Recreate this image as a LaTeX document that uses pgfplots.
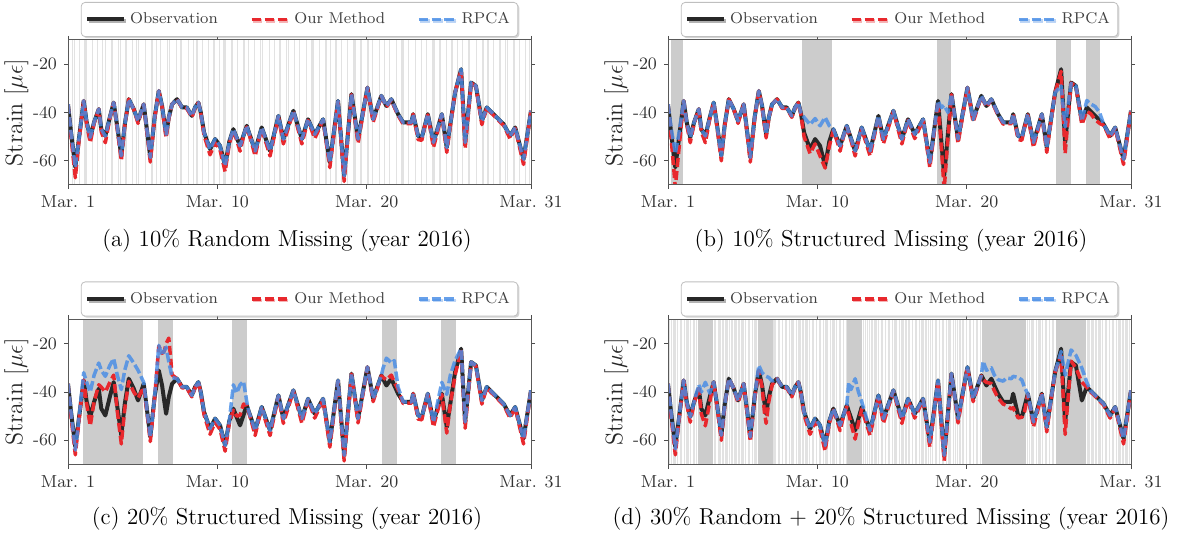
\documentclass[border=0pt]{standalone}
\usepackage{pgfplots}
\pgfplotsset{compat=1.18}
\usepackage{pgfplotstable}
\usetikzlibrary{shadows}

\definecolor{obscol}{RGB}{40,40,40}
\definecolor{ourcol}{RGB}{232,40,45}
\definecolor{rpcacol}{RGB}{70,140,230}
\definecolor{gapcol}{RGB}{204,204,204}
\definecolor{rndcol}{RGB}{226,226,226}

\pgfplotstableread{
x      obs    ma     mb     mc     md     rb     rc     rd
0.00  -36.6  -36.6  -36.6  -36.6  -36.6  -36.6  -36.6  -36.6
0.20  -48.0  -50.0  -50.0  -50.0  -50.0  -46.0  -48.0  -48.0
0.49  -62.7  -67.0  -71.0  -66.0  -66.0  -57.0  -64.0  -63.5
0.75  -50.0  -51.0  -54.0  -51.0  -51.0  -48.0  -50.0  -50.0
1.05  -35.2  -35.2  -35.2  -35.0  -35.2  -35.2  -32.0  -35.2
1.25  -44.0  -45.0  -45.0  -45.0  -45.0  -44.0  -36.0  -44.0
1.49  -50.3  -52.5  -52.5  -54.0  -52.5  -50.3  -40.0  -50.3
1.75  -44.0  -44.5  -44.5  -44.0  -44.5  -44.0  -33.0  -44.0
2.06  -38.6  -38.6  -38.6  -37.0  -38.6  -38.6  -28.0  -37.0
2.23  -46.9  -48.0  -48.0  -38.0  -49.0  -46.9  -31.0  -40.0
2.50  -49.7  -52.5  -52.5  -40.0  -54.0  -49.7  -33.5  -36.0
2.80  -42.0  -42.5  -42.5  -36.0  -44.0  -42.0  -29.0  -40.5
3.06  -35.9  -35.9  -35.9  -33.0  -35.9  -35.9  -26.2  -35.9
3.30  -46.0  -47.0  -47.0  -48.0  -47.0  -46.0  -33.0  -46.0
3.57  -57.9  -60.0  -60.0  -61.5  -60.0  -57.9  -39.0  -57.9
3.80  -45.0  -45.5  -45.5  -47.0  -45.5  -45.0  -31.0  -45.0
4.07  -34.5  -34.5  -34.5  -35.6  -34.5  -34.5  -25.0  -34.5
4.40  -38.6  -38.6  -38.6  -40.0  -38.6  -38.6  -28.0  -38.6
4.69  -43.5  -44.5  -44.5  -42.5  -44.5  -43.5  -31.0  -43.5
5.07  -36.6  -36.6  -36.6  -38.0  -36.6  -36.6  -36.0  -36.6
5.30  -48.0  -49.0  -49.0  -49.0  -49.0  -48.0  -48.0  -48.0
5.51  -58.6  -60.5  -60.5  -60.5  -60.5  -58.6  -58.6  -58.6
5.80  -42.0  -42.5  -42.5  -42.5  -42.5  -42.0  -42.0  -42.0
6.08  -31.1  -31.1  -31.1  -21.0  -31.1  -31.1  -20.7  -29.0
6.30  -37.3  -37.8  -37.8  -24.0  -38.0  -37.3  -24.8  -32.0
6.45  -44.0  -45.0  -45.0  -23.0  -48.0  -44.0  -23.0  -33.0
6.57  -49.0  -50.5  -50.5  -20.0  -53.0  -49.0  -21.4  -33.5
6.75  -42.0  -42.5  -42.5  -17.7  -44.0  -42.0  -27.6  -34.0
6.97  -36.6  -36.6  -36.6  -32.9  -37.0  -36.6  -34.0  -35.5
7.30  -34.5  -34.5  -34.5  -34.5  -34.5  -34.5  -34.5  -34.5
7.64  -37.9  -38.3  -38.3  -38.3  -38.3  -37.9  -37.9  -37.9
7.95  -37.9  -38.3  -38.3  -38.3  -38.3  -37.9  -37.9  -37.9
8.29  -41.4  -42.0  -42.0  -42.0  -42.0  -41.4  -41.4  -41.4
8.51  -37.9  -38.3  -38.3  -38.3  -38.3  -37.9  -37.9  -37.9
8.73  -35.9  -35.9  -35.9  -35.9  -35.9  -35.9  -35.9  -35.9
8.89  -40.0  -40.5  -40.5  -40.5  -40.5  -40.0  -40.0  -40.0
9.11  -48.3  -49.5  -50.0  -49.5  -49.5  -42.0  -48.3  -48.3
9.51  -55.2  -57.5  -57.0  -57.5  -57.5  -45.0  -55.2  -55.2
9.85  -51.0  -52.5  -53.0  -52.5  -52.5  -42.5  -51.0  -51.0
10.18 -53.8  -55.5  -58.0  -55.5  -55.5  -45.5  -53.8  -53.8
10.52 -62.1  -64.5  -63.0  -64.5  -64.5  -42.0  -62.1  -62.1
10.80 -52.0  -53.0  -54.0  -53.0  -53.0  -45.5  -52.0  -52.0
11.07 -46.9  -47.5  -47.5  -47.5  -47.5  -46.9  -37.0  -46.9
11.30 -50.5  -51.5  -51.5  -50.0  -51.5  -50.5  -40.4  -50.5
11.52 -53.8  -56.0  -56.0  -49.6  -56.0  -53.8  -37.0  -53.8
11.75 -49.5  -50.0  -50.0  -45.0  -50.0  -49.5  -35.6  -49.5
11.97 -45.5  -46.0  -46.0  -45.5  -46.0  -45.5  -44.0  -45.5
12.10 -48.0  -48.5  -48.5  -48.5  -49.0  -48.0  -48.0  -36.0
12.25 -50.7  -51.5  -51.5  -51.5  -53.0  -50.7  -50.7  -39.0
12.53 -55.9  -58.0  -58.0  -58.0  -59.5  -55.9  -55.9  -34.5
12.75 -51.0  -52.0  -52.0  -52.0  -53.0  -51.0  -51.0  -40.0
12.97 -46.2  -46.8  -46.8  -46.8  -47.0  -46.2  -46.2  -44.0
13.53 -55.9  -58.0  -58.0  -58.0  -58.0  -55.9  -55.9  -55.9
14.09 -41.4  -41.8  -41.8  -41.8  -41.8  -41.4  -41.4  -41.4
14.42 -51.0  -53.0  -53.0  -53.0  -53.0  -51.0  -51.0  -51.0
15.09 -39.3  -39.6  -39.6  -39.6  -39.6  -39.3  -39.3  -39.3
15.66 -51.0  -53.0  -53.0  -53.0  -53.0  -51.0  -51.0  -51.0
16.07 -42.8  -43.2  -43.2  -43.2  -43.2  -42.8  -42.8  -42.8
16.52 -49.0  -50.8  -50.8  -50.8  -50.8  -49.0  -49.0  -49.0
17.08 -42.8  -43.2  -43.2  -43.2  -43.2  -42.8  -42.8  -42.8
17.53 -60.7  -62.8  -62.8  -62.8  -62.8  -60.7  -60.7  -60.7
18.08 -35.2  -35.5  -35.5  -35.5  -35.5  -35.2  -35.2  -35.2
18.30 -51.8  -53.0  -54.0  -53.0  -53.0  -38.0  -51.8  -51.8
18.49 -66.2  -68.5  -72.0  -68.5  -68.5  -37.0  -66.2  -66.2
18.75 -48.3  -49.0  -50.0  -49.0  -49.0  -40.0  -48.3  -48.3
18.98 -32.4  -32.6  -32.6  -32.6  -32.6  -32.4  -32.4  -32.4
19.42 -51.0  -52.8  -52.8  -52.8  -52.8  -51.0  -51.0  -51.0
20.05 -29.7  -29.7  -29.7  -29.7  -29.7  -29.7  -29.7  -29.7
20.43 -42.8  -44.0  -44.0  -44.0  -44.0  -42.8  -42.8  -42.8
20.98 -33.1  -33.3  -33.3  -33.3  -33.3  -33.1  -33.1  -33.1
21.10 -34.6  -34.8  -34.8  -34.0  -35.0  -34.6  -30.0  -27.3
21.32 -37.3  -37.8  -37.8  -35.0  -36.0  -37.3  -26.0  -31.0
21.65 -34.5  -34.8  -34.8  -33.0  -36.5  -34.5  -28.0  -30.0
21.85 -37.3  -37.8  -37.8  -36.0  -39.5  -37.3  -27.0  -33.0
22.10 -40.7  -41.2  -41.2  -39.0  -42.5  -40.7  -38.0  -34.9
22.44 -44.1  -44.8  -44.8  -44.8  -45.0  -44.1  -44.1  -35.5
22.65 -44.1  -44.6  -44.6  -44.6  -45.5  -44.1  -44.1  -34.2
22.99 -44.1  -44.6  -44.6  -44.6  -47.0  -44.1  -44.1  -34.5
23.11 -40.7  -40.7  -40.7  -40.7  -46.5  -40.7  -40.7  -33.5
23.44 -49.7  -51.2  -51.2  -51.2  -50.7  -49.7  -49.7  -34.0
23.69 -50.3  -51.5  -51.5  -51.5  -50.5  -50.3  -50.3  -35.0
23.88 -45.7  -46.0  -46.0  -46.0  -48.0  -45.7  -45.7  -38.3
24.09 -40.7  -41.0  -41.0  -41.0  -41.0  -40.7  -40.7  -40.7
24.47 -52.4  -54.5  -54.5  -54.5  -54.5  -52.4  -52.4  -52.4
25.03 -40.7  -41.0  -41.0  -41.0  -41.0  -40.7  -36.0  -40.7
25.36 -54.5  -56.5  -56.5  -57.0  -56.5  -54.5  -41.0  -54.5
25.60 -44.7  -45.5  -45.5  -45.0  -45.5  -44.7  -33.0  -44.7
25.92 -31.7  -31.7  -31.7  -33.0  -31.7  -31.7  -27.0  -31.7
26.32 -22.1  -22.5  -23.0  -22.5  -25.0  -29.0  -22.1  -23.2
26.59 -52.4  -55.0  -57.0  -55.0  -57.6  -46.0  -52.4  -33.0
26.99 -27.6  -27.8  -27.8  -27.8  -27.2  -28.0  -27.6  -22.6
27.31 -29.0  -29.3  -29.3  -29.3  -30.0  -29.0  -29.0  -24.8
27.71 -43.5  -45.0  -45.0  -45.0  -36.0  -43.5  -43.5  -30.1
28.04 -37.9  -38.2  -39.5  -38.2  -38.0  -35.0  -37.9  -36.0
28.30 -39.5  -40.0  -40.5  -40.0  -40.0  -36.5  -39.5  -39.5
28.60 -41.4  -41.8  -43.0  -41.8  -41.8  -37.5  -41.4  -41.4
28.90 -43.2  -43.7  -44.5  -43.7  -43.7  -40.0  -43.2  -43.2
29.16 -44.8  -45.3  -45.3  -45.3  -45.3  -44.8  -44.8  -44.8
29.60 -49.7  -50.8  -50.8  -50.8  -50.8  -49.7  -49.7  -49.7
29.94 -46.2  -46.5  -46.5  -46.5  -46.5  -46.2  -46.2  -46.2
30.50 -59.3  -61.5  -61.5  -61.5  -61.5  -59.3  -59.3  -59.3
31.00 -39.3  -39.3  -39.3  -39.3  -39.3  -39.3  -39.3  -39.3
}\data

\pgfplotsset{
  strainaxis/.style={
    scale only axis, width=231.5pt, height=72.5pt,
    xmin=0, xmax=31, ymin=-70, ymax=-10,
    xtick={0,10,20,31}, xticklabels={Mar. 1, Mar. 10, Mar. 20, Mar. 31},
    ytick={-60,-40,-20}, yticklabels={-60,-40,-20},
    minor tick num=0,
    axis on top=true,
    tick align=outside, major tick length=2pt,
    tick style={black!70, line width=0.4pt},
    axis line style={black!65, line width=0.5pt},
    tick label style={font=\fontsize{8.7}{10}\selectfont, text=black!80},
    ylabel={Strain [$\mu\epsilon$]},
    ylabel style={font=\fontsize{12}{14}\selectfont, text=black!85},
    ylabel shift=-4.5pt,
    clip marker paths=true,
    legend columns=3,
    legend style={at={(0.5,1)}, anchor=south, yshift=1.5pt,
      draw=black!25, rounded corners=2pt, fill=white,
      drop shadow={shadow xshift=0.8pt, shadow yshift=-0.8pt, opacity=0.35},
      font=\fontsize{7.85}{9}\selectfont, text=black!75,
      inner xsep=2pt, inner ysep=3pt,
      /tikz/every even column/.append style={column sep=14pt}},
    legend image code/.code={\draw[##1] (0pt,0pt) -- (18.5pt,0pt);},
  },
  obsline/.style={obscol, line width=2pt, line join=round},
  ourline/.style={ourcol, line width=1.75pt, dash pattern=on 4.5pt off 2pt, line join=round},
  rpcaline/.style={rpcacol, line width=1.75pt, dash pattern=on 4.8pt off 1.6pt, line join=round, opacity=0.82},
  rnd/.style={forget plot, only marks, mark=|, mark size=36pt,
    mark options={draw=rndcol, line width=0.6pt}},
  gap/.style={forget plot, draw=none, fill=gapcol, mark=none},
}

\begin{document}
\begin{tikzpicture}
\useasboundingbox (0pt,0pt) rectangle (591pt,268pt);

% (a)
\begin{axis}[strainaxis, at={(34pt,175.5pt)}, anchor=south west]
\addplot[rnd] coordinates {(0.28,-40)(0.41,-40)(0.77,-40)(1.12,-40)(1.2,-40)(1.63,-40)(1.95,-40)(2.31,-40)(2.52,-40)(2.94,-40)(3.38,-40)(3.51,-40)(3.89,-40)(4.33,-40)(4.6,-40)(4.71,-40)(5.18,-40)(5.62,-40)(5.9,-40)(6.21,-40)(6.66,-40)(6.8,-40)(7.25,-40)(7.55,-40)(7.6,-40)(8.05,-40)(8.39,-40)(8.62,-40)(8.66,-40)(9.02,-40)(9.41,-40)(9.77,-40)(10.12,-40)(10.44,-40)(10.51,-40)(10.98,-40)(11.35,-40)(11.79,-40)(12.06,-40)(12.48,-40)(12.9,-40)(13.02,-40)(13.47,-40)(13.85,-40)(14.2,-40)(14.61,-40)(14.74,-40)(15.15,-40)(15.5,-40)(15.96,-40)(16.3,-40)(16.41,-40)(16.85,-40)(17.27,-40)(17.6,-40)(17.95,-40)(18.33,-40)(18.69,-40)(19.1,-40)(19.21,-40)(19.62,-40)(20.08,-40)(20.4,-40)(20.86,-40)(21.18,-40)(21.52,-40)(21.97,-40)(22.35,-40)(22.43,-40)(22.8,-40)(23.24,-40)(23.66,-40)(23.99,-40)(24.38,-40)(24.5,-40)(24.91,-40)(25.33,-40)(25.71,-40)(26.07,-40)(26.44,-40)(26.82,-40)(26.9,-40)(27.35,-40)(27.79,-40)(28.12,-40)(28.5,-40)(28.93,-40)(29.31,-40)(29.44,-40)(29.86,-40)(30.22,-40)(30.63,-40)(30.88,-40)};
\addplot[obsline] table[x=x,y=obs]{\data}; \addlegendentry{Observation}
\addplot[ourline] table[x=x,y=ma]{\data}; \addlegendentry{Our Method}
\addplot[rpcaline] table[x=x,y=obs]{\data}; \addlegendentry{RPCA}
\end{axis}

% (b)
\begin{axis}[strainaxis, at={(334pt,175.5pt)}, anchor=south west]
\addplot[gap] coordinates {(0.2,-70)(0.2,-10)(1,-10)(1,-70)};
\addplot[gap] coordinates {(9,-70)(9,-10)(10.95,-10)(10.95,-70)};
\addplot[gap] coordinates {(18,-70)(18,-10)(18.95,-10)(18.95,-70)};
\addplot[gap] coordinates {(26,-70)(26,-10)(26.95,-10)(26.95,-70)};
\addplot[gap] coordinates {(28,-70)(28,-10)(28.95,-10)(28.95,-70)};
\addplot[obsline] table[x=x,y=obs]{\data}; \addlegendentry{Observation}
\addplot[ourline] table[x=x,y=mb]{\data}; \addlegendentry{Our Method}
\addplot[rpcaline] table[x=x,y=rb]{\data}; \addlegendentry{RPCA}
\end{axis}

% (c)
\begin{axis}[strainaxis, at={(34pt,35.75pt)}, anchor=south west]
\addplot[gap] coordinates {(1,-70)(1,-10)(5,-10)(5,-70)};
\addplot[gap] coordinates {(6,-70)(6,-10)(7,-10)(7,-70)};
\addplot[gap] coordinates {(11,-70)(11,-10)(12,-10)(12,-70)};
\addplot[gap] coordinates {(21,-70)(21,-10)(22,-10)(22,-70)};
\addplot[gap] coordinates {(25,-70)(25,-10)(26,-10)(26,-70)};
\addplot[obsline] table[x=x,y=obs]{\data}; \addlegendentry{Observation}
\addplot[ourline] table[x=x,y=mc]{\data}; \addlegendentry{Our Method}
\addplot[rpcaline] table[x=x,y=rc]{\data}; \addlegendentry{RPCA}
\end{axis}

% (d)
\begin{axis}[strainaxis, at={(334pt,35.75pt)}, anchor=south west]
\addplot[rnd] coordinates {(0.12,-40)(0.21,-40)(0.38,-40)(0.47,-40)(0.66,-40)(0.83,-40)(0.9,-40)(1.08,-40)(1.27,-40)(1.35,-40)(1.52,-40)(1.7,-40)(1.79,-40)(1.93,-40)(3.09,-40)(3.2,-40)(3.41,-40)(3.5,-40)(3.68,-40)(3.86,-40)(3.95,-40)(4.14,-40)(4.29,-40)(4.48,-40)(4.57,-40)(4.75,-40)(4.93,-40)(5.02,-40)(5.21,-40)(5.4,-40)(5.47,-40)(5.66,-40)(5.83,-40)(5.92,-40)(7.1,-40)(7.22,-40)(7.4,-40)(7.49,-40)(7.68,-40)(7.85,-40)(7.95,-40)(8.12,-40)(8.3,-40)(8.39,-40)(8.58,-40)(8.77,-40)(8.85,-40)(9.04,-40)(9.2,-40)(9.31,-40)(9.5,-40)(9.68,-40)(9.76,-40)(9.94,-40)(10.13,-40)(10.22,-40)(10.4,-40)(10.58,-40)(10.67,-40)(10.86,-40)(11.03,-40)(11.12,-40)(11.3,-40)(11.48,-40)(11.57,-40)(11.76,-40)(11.93,-40)(13.08,-40)(13.2,-40)(13.38,-40)(13.47,-40)(13.66,-40)(13.84,-40)(13.93,-40)(14.11,-40)(14.3,-40)(14.38,-40)(14.57,-40)(14.75,-40)(14.84,-40)(15.02,-40)(15.2,-40)(15.29,-40)(15.48,-40)(15.65,-40)(15.74,-40)(15.93,-40)(16.1,-40)(16.19,-40)(16.38,-40)(16.56,-40)(16.64,-40)(16.83,-40)(17.0,-40)(17.09,-40)(17.28,-40)(17.46,-40)(17.55,-40)(17.73,-40)(17.91,-40)(18.0,-40)(18.18,-40)(18.37,-40)(18.45,-40)(18.64,-40)(18.82,-40)(18.9,-40)(19.09,-40)(19.27,-40)(19.36,-40)(19.55,-40)(19.72,-40)(19.81,-40)(20.0,-40)(20.17,-40)(20.26,-40)(20.45,-40)(20.63,-40)(20.71,-40)(20.9,-40)(24.07,-40)(24.19,-40)(24.37,-40)(24.46,-40)(24.65,-40)(24.82,-40)(24.91,-40)(25.1,-40)(25.27,-40)(25.36,-40)(25.55,-40)(25.73,-40)(25.81,-40)(28.08,-40)(28.19,-40)(28.37,-40)(28.46,-40)(28.65,-40)(28.83,-40)(28.92,-40)(29.1,-40)(29.28,-40)(29.37,-40)(29.56,-40)(29.74,-40)(29.82,-40)(30.01,-40)(30.19,-40)(30.28,-40)(30.46,-40)(30.64,-40)(30.73,-40)(30.92,-40)};
\addplot[gap] coordinates {(2,-70)(2,-10)(3,-10)(3,-70)};
\addplot[gap] coordinates {(6,-70)(6,-10)(7,-10)(7,-70)};
\addplot[gap] coordinates {(12,-70)(12,-10)(13,-10)(13,-70)};
\addplot[gap] coordinates {(21,-70)(21,-10)(24,-10)(24,-70)};
\addplot[gap] coordinates {(26,-70)(26,-10)(28,-10)(28,-70)};
\addplot[obsline] table[x=x,y=obs]{\data}; \addlegendentry{Observation}
\addplot[ourline] table[x=x,y=md]{\data}; \addlegendentry{Our Method}
\addplot[rpcaline] table[x=x,y=rd]{\data}; \addlegendentry{RPCA}
\end{axis}

\node[font=\fontsize{11.5}{13}\selectfont] at (143.5pt,147.6pt) {(a) 10\% Random Missing (year 2016)};
\node[font=\fontsize{11.5}{13}\selectfont] at (445.5pt,147.6pt) {(b) 10\% Structured Missing (year 2016)};
\node[font=\fontsize{11.5}{13}\selectfont] at (143.5pt,8.5pt) {(c) 20\% Structured Missing (year 2016)};
\node[font=\fontsize{11.5}{13}\selectfont] at (445.5pt,8.5pt) {(d) 30\% Random + 20\% Structured Missing (year 2016)};
\end{tikzpicture}
\end{document}
